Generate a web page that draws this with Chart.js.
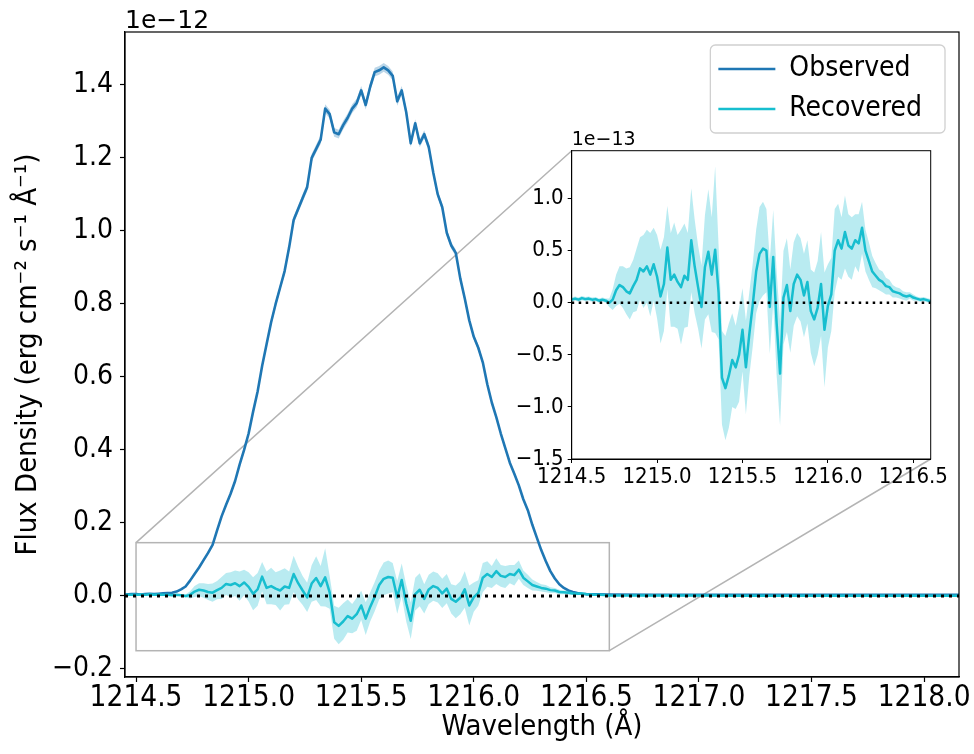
<!DOCTYPE html>
<html><head><meta charset="utf-8">
<script src="https://cdn.jsdelivr.net/npm/chart.js@4.4.1/dist/chart.umd.min.js"></script>
<style>
html,body{margin:0;padding:0;background:#fff;}
#wrap{position:relative;width:974px;height:754px;overflow:hidden;background:#fff;}
#main{position:absolute;left:0;top:0;}
#inset{position:absolute;left:500px;top:110px;}
</style></head><body>
<div id="wrap"><canvas id="main" width="974" height="754"></canvas><canvas id="inset" width="474" height="400"></canvas></div>
<script>
// ---------------- DATA ----------------
// Observed flux, units of 1e-12 erg cm^-2 s^-1 A^-1
const obsWave = [
  1214.45,1214.48,1214.50,1214.52,1214.54,1214.56,1214.58,1214.60,1214.62,1214.64,1214.66,
  1214.68,1214.70,1214.72,1214.74,1214.76,1214.78,1214.80,1214.82,1214.84,1214.86,1214.88,1214.90,1214.92,1214.94,1214.96,1214.98,
  1215.00,1215.02,1215.04,1215.06,1215.08,1215.10,1215.12,1215.14,1215.16,1215.18,1215.20,1215.22,1215.24,1215.26,1215.28,1215.30,
  1215.32,1215.34,1215.36,1215.38,1215.40,1215.42,1215.44,1215.46,1215.48,1215.50,1215.52,1215.54,1215.56,1215.58,1215.60,1215.62,
  1215.64,1215.66,1215.68,1215.70,1215.72,1215.74,1215.76,1215.78,1215.80,1215.82,1215.84,1215.86,1215.88,1215.90,1215.92,1215.94,
  1215.96,1215.98,1216.00,1216.02,1216.04,1216.06,1216.08,1216.10,1216.12,1216.14,1216.16,1216.18,1216.20,1216.22,1216.24,1216.26,
  1216.28,1216.30,1216.32,1216.34,1216.36,1216.38,1216.40,1216.42,1216.44,1216.46,1216.48,1216.50,
  1216.60,1216.80,1217.00,1217.20,1217.40,1217.60,1217.80,1218.00,1218.16
];
const obsFlux = [
  0.004,0.005,0.005,0.004,0.005,0.006,0.005,0.006,0.007,0.008,0.009,
  0.012,0.018,0.026,0.042,0.060,0.078,0.098,0.118,0.140,0.180,0.218,0.250,0.280,0.315,0.360,0.400,
  0.445,0.505,0.560,0.630,0.690,0.750,0.800,0.845,0.890,0.955,1.030,1.060,1.090,1.120,1.200,1.225,
  1.250,1.335,1.320,1.270,1.265,1.290,1.310,1.335,1.350,1.385,1.345,1.395,1.435,1.440,1.448,1.440,
  1.425,1.355,1.385,1.325,1.240,1.295,1.240,1.265,1.230,1.160,1.100,1.065,0.995,0.960,0.940,0.870,
  0.815,0.755,0.710,0.680,0.640,0.580,0.530,0.490,0.445,0.405,0.365,0.335,0.303,0.265,0.235,0.195,
  0.160,0.125,0.095,0.068,0.048,0.032,0.022,0.015,0.011,0.008,0.006,0.005,
  0.004,0.003,0.003,0.003,0.003,0.003,0.003,0.003,0.003
];
const obsErr = [
  0.001,0.001,0.001,0.001,0.001,0.001,0.001,0.001,0.001,0.001,0.001,
  0.002,0.002,0.002,0.003,0.003,0.003,0.004,0.004,0.004,0.005,0.005,0.005,0.006,0.006,0.006,0.007,
  0.007,0.007,0.008,0.008,0.008,0.009,0.009,0.009,0.010,0.010,0.010,0.010,0.011,0.011,0.011,0.011,
  0.012,0.012,0.012,0.012,0.012,0.012,0.012,0.012,0.012,0.012,0.012,0.012,0.012,0.012,0.012,0.012,
  0.012,0.012,0.012,0.012,0.011,0.011,0.011,0.011,0.011,0.010,0.010,0.010,0.010,0.009,0.009,0.009,
  0.009,0.008,0.008,0.008,0.007,0.007,0.007,0.006,0.006,0.006,0.005,0.005,0.005,0.004,0.004,0.004,
  0.003,0.003,0.003,0.003,0.003,0.002,0.002,0.002,0.002,0.002,0.002,0.002,
  0.001,0.001,0.001,0.001,0.001,0.001,0.001,0.001,0.001
];
// Recovered flux, units of 1e-13 erg cm^-2 s^-1 A^-1
const recWave = [
  1214.45,
  1214.50,1214.52,1214.54,1214.56,1214.58,1214.60,1214.62,1214.64,1214.66,1214.68,
  1214.70,1214.72,1214.74,1214.76,1214.78,1214.80,1214.82,1214.84,1214.86,1214.88,
  1214.90,1214.92,1214.94,1214.96,1214.98,1215.00,1215.02,1215.04,1215.06,1215.08,
  1215.10,1215.12,1215.14,1215.16,1215.18,1215.20,1215.22,1215.24,1215.26,1215.28,
  1215.30,1215.32,1215.34,1215.36,1215.38,1215.40,1215.42,1215.44,1215.46,1215.48,
  1215.50,1215.52,1215.54,1215.56,1215.58,1215.60,1215.62,1215.64,1215.66,1215.68,
  1215.70,1215.72,1215.74,1215.76,1215.78,1215.80,1215.82,1215.84,1215.86,1215.88,
  1215.90,1215.92,1215.94,1215.96,1215.98,1216.00,1216.02,1216.04,1216.06,1216.08,
  1216.10,1216.12,1216.14,1216.16,1216.18,1216.20,1216.22,1216.24,1216.26,1216.28,
  1216.30,1216.32,1216.34,1216.36,1216.38,1216.40,1216.42,1216.44,1216.46,1216.48,
  1216.50,1216.52,1216.54,1216.56,1216.58,1216.60,
  1216.80,1217.00,1217.20,1217.40,1217.60,1217.80,1218.00,1218.16
];
const recFlux = [
  0.03,
  0.03,0.04,0.03,0.045,0.035,0.04,0.03,0.035,0.02,0.03,
  0.02,0.00,0.03,0.12,0.17,0.15,0.11,0.09,0.16,0.22,
  0.33,0.30,0.35,0.27,0.37,0.25,0.06,0.18,0.53,0.22,
  0.27,0.20,0.15,0.26,0.22,0.60,0.35,0.15,-0.04,0.34,
  0.49,0.27,0.51,0.10,-0.72,-0.82,-0.70,-0.55,-0.62,-0.50,
  -0.26,-0.62,-0.30,-0.02,0.30,0.47,0.52,0.50,-0.04,0.44,
  -0.20,-0.68,0.05,0.17,-0.08,0.18,0.27,0.22,0.07,0.20,
  -0.08,-0.16,-0.05,0.18,-0.26,-0.03,0.08,0.50,0.60,0.52,
  0.68,0.55,0.52,0.60,0.57,0.72,0.50,0.40,0.30,0.26,
  0.22,0.20,0.16,0.15,0.11,0.10,0.09,0.07,0.06,0.07,
  0.05,0.04,0.03,0.035,0.025,0.015,
  0.01,0.01,0.008,0.008,0.006,0.006,0.005,0.005
];
const recErr = [
  0.02,
  0.02,0.02,0.02,0.02,0.02,0.02,0.02,0.02,0.02,0.02,
  0.02,0.04,0.10,0.15,0.18,0.20,0.22,0.25,0.25,0.30,
  0.30,0.35,0.35,0.40,0.35,0.40,0.45,0.45,0.40,0.45,
  0.50,0.45,0.55,0.50,0.45,0.50,0.45,0.40,0.40,0.50,
  0.60,0.55,0.80,0.45,0.45,0.50,0.50,0.45,0.40,0.45,
  0.40,0.45,0.40,0.40,0.40,0.45,0.45,0.40,0.45,0.45,
  0.50,0.50,0.45,0.45,0.40,0.40,0.40,0.40,0.40,0.40,
  0.40,0.45,0.45,0.50,0.55,0.40,0.35,0.40,0.35,0.30,
  0.35,0.30,0.30,0.25,0.28,0.25,0.20,0.18,0.15,0.12,
  0.10,0.10,0.08,0.07,0.06,0.05,0.05,0.04,0.04,0.03,
  0.03,0.02,0.02,0.02,0.02,0.02,
  0.01,0.01,0.01,0.01,0.01,0.01,0.01,0.01
];
const legendNames = ['Observed', 'Recovered'];
const mainXTicks = [1214.5, 1215.0, 1215.5, 1216.0, 1216.5, 1217.0, 1217.5, 1218.0];
const mainYTicks = [-0.2, 0.0, 0.2, 0.4, 0.6, 0.8, 1.0, 1.2, 1.4];
const insetXTicks = [1214.5, 1215.0, 1215.5, 1216.0, 1216.5];
const insetYTicks = [-1.5, -1.0, -0.5, 0.0, 0.5, 1.0];
const mainXRange = [1214.451, 1218.155];
const mainYRange = [-0.222, 1.545];
const insetXRange = [1214.5, 1216.602];
const insetYRange = [-1.5, 1.46];
const mainOffsetText = '1e\u221212';
const insetOffsetText = '1e\u221213';
const xTitle = 'Wavelength (\u00C5)';
const yTitle = 'Flux Density (erg cm\u207B\u00B2 s\u207B\u00B9 \u00C5\u207B\u00B9)';

// ---------------- STYLE ----------------
const OBS = '#1f77b4', OBS_FILL = 'rgba(31,119,180,0.3)';
const REC = '#17becf', REC_FILL = 'rgba(23,190,207,0.3)';
function pickFont(){
  const c = document.createElement('canvas').getContext('2d');
  const s = 'Wavelength 1214.5';
  c.font = '40px monospace'; const m = c.measureText(s).width;
  for (const f of ['DejaVu Sans Condensed', 'Liberation Sans Narrow']) {
    c.font = '40px "' + f + '", monospace';
    if (Math.abs(c.measureText(s).width - m) > 0.5) return f;
  }
  return null;
}
const NARROW = pickFont();
const FONT = NARROW || 'DejaVu Sans';
const K = NARROW ? 1 : 0.9;
const BASE = 'DejaVu Sans';
Chart.defaults.color = '#000';
Chart.defaults.font.family = FONT;
const fmt = v => (v < 0 ? '\u2212' : '') + Math.abs(v).toFixed(1);

const pts = (w, f, s) => w.map((x, i) => ({x, y: f[i] * s}));
const band = (w, f, e, sgn, s) => w.map((x, i) => ({x, y: (f[i] + sgn * e[i]) * s}));

function lineDs(label, data, color, width, order, extra) {
  return Object.assign({label, data, borderColor: color, borderWidth: width, pointRadius: 0,
    tension: 0, borderJoinStyle: 'round', fill: false, order}, extra || {});
}

// ---------------- INSET ----------------
const insetFramePlugin = {
  id: 'insetFrame',
  beforeDraw(chart) {
    const {ctx, chartArea: a} = chart;
    ctx.save(); ctx.fillStyle = '#fff'; ctx.fillRect(a.left, a.top, a.right - a.left, a.bottom - a.top); ctx.restore();
  },
  afterDraw(chart) {
    const {ctx, chartArea: a} = chart;
    ctx.save();
    ctx.strokeStyle = '#000'; ctx.lineWidth = 1;
    ctx.strokeRect(a.left, a.top, a.right - a.left, a.bottom - a.top);
    ctx.fillStyle = '#000'; ctx.font = '19px "' + BASE + '"'; ctx.textBaseline = 'alphabetic';
    ctx.fillText(insetOffsetText, a.left, a.top - 6);
    ctx.restore();
  }
};
const insetChart = new Chart(document.getElementById('inset'), {
  type: 'line',
  data: { datasets: [
    lineDs('zero', [{x: insetXRange[0], y: 0}, {x: insetXRange[1], y: 0}], '#000', 2.5, 0, {borderDash: [2.5, 4.5]}),
    lineDs('Recovered', pts(recWave, recFlux, 1), REC, 2.5, 1),
    lineDs('rec hi', band(recWave, recFlux, recErr, 1, 1), 'rgba(0,0,0,0)', 0, 2, {fill: '+1', backgroundColor: REC_FILL}),
    lineDs('rec lo', band(recWave, recFlux, recErr, -1, 1), 'rgba(0,0,0,0)', 0, 3)
  ]},
  options: {
    responsive: false, animation: false, devicePixelRatio: 1, events: [],
    layout: {padding: {left: 0, top: 40.7, right: 43.3, bottom: 0}},
    plugins: {legend: {display: false}, tooltip: {enabled: false}},
    scales: {
      x: {type: 'linear', min: insetXRange[0], max: insetXRange[1],
        afterBuildTicks: s => { s.ticks = insetXTicks.map(v => ({value: v})); },
        afterFit: s => { s.height = 51; },
        ticks: {callback: v => fmt(v), autoSkip: false, maxRotation: 0, padding: 3, font: {size: 22 * K, lineHeight: 1}},
        grid: {drawOnChartArea: false, drawTicks: true, tickLength: 4, color: '#000', tickWidth: 1},
        border: {display: true, color: '#000', width: 1}},
      y: {type: 'linear', min: insetYRange[0], max: insetYRange[1],
        afterBuildTicks: s => { s.ticks = insetYTicks.map(v => ({value: v})); },
        afterFit: s => { s.width = 71.7; },
        ticks: {callback: v => fmt(v), autoSkip: false, padding: 4, font: {size: 22 * K, lineHeight: 1}},
        grid: {drawOnChartArea: false, drawTicks: true, tickLength: 4, color: '#000', tickWidth: 1},
        border: {display: true, color: '#000', width: 1}}
    }
  },
  plugins: [insetFramePlugin]
});

// ---------------- MAIN ----------------
const LEG_SIZE = 28 * K;
const mainPlugin = {
  id: 'mainDecor',
  afterLayout(chart) {
    const lg = chart.legend; if (!lg) return;
    const a = chart.chartArea, ctx = chart.ctx;
    ctx.save(); ctx.font = LEG_SIZE + 'px "' + FONT + '"';
    const tw = Math.max(...legendNames.map(n => ctx.measureText(n).width));
    ctx.restore();
    const pad = 12, boxW = 57;
    const bRight = a.right - 14, bTop = a.top + 13;
    const bW = 8 + boxW + LEG_SIZE / 2 + tw + 23, bH = 88;
    const bLeft = bRight - bW;
    lg.left = bLeft + 8 - pad;
    lg.top = bTop + 24 - pad - LEG_SIZE / 2;
    lg.right = bRight + 10;
    lg.bottom = a.bottom;
    chart.$legBox = {x: bLeft, y: bTop, w: bW, h: bH};
  },
  beforeDraw(chart) {
    const b = chart.$legBox; if (!b) return;
    const ctx = chart.ctx;
    ctx.save();
    ctx.beginPath();
    ctx.roundRect(b.x, b.y, b.w, b.h, 5);
    ctx.fillStyle = 'rgba(255,255,255,0.8)'; ctx.fill();
    ctx.strokeStyle = '#d0d0d0'; ctx.lineWidth = 1.3; ctx.stroke();
    ctx.restore();
  },
  beforeDatasetsDraw(chart) {
    const {ctx, scales: {x, y}} = chart;
    const x1 = x.getPixelForValue(insetXRange[0]), x2 = x.getPixelForValue(insetXRange[1]);
    const y1 = y.getPixelForValue(insetYRange[1] / 10), y2 = y.getPixelForValue(insetYRange[0] / 10);
    const el = document.getElementById('inset');
    const ox = el.offsetLeft, oy = el.offsetTop, ia = insetChart.chartArea;
    ctx.save();
    ctx.strokeStyle = '#b4b4b4'; ctx.lineWidth = 1.5;
    ctx.strokeRect(x1, y1, x2 - x1, y2 - y1);
    ctx.beginPath();
    ctx.moveTo(x1, y1); ctx.lineTo(ox + ia.left, oy + ia.top);
    ctx.moveTo(x2, y2); ctx.lineTo(ox + ia.right, oy + ia.bottom);
    ctx.stroke();
    ctx.restore();
  },
  afterDraw(chart) {
    const {ctx, chartArea: a} = chart;
    ctx.save();
    ctx.strokeStyle = '#000'; ctx.lineWidth = 1.2;
    ctx.strokeRect(a.left, a.top, a.right - a.left, a.bottom - a.top);
    ctx.fillStyle = '#000'; ctx.font = '25px "' + BASE + '"'; ctx.textBaseline = 'alphabetic';
    ctx.fillText(mainOffsetText, a.left, a.top - 4);
    ctx.restore();
  }
};

new Chart(document.getElementById('main'), {
  type: 'line',
  data: { datasets: [
    lineDs('zero', [{x: mainXRange[0], y: 0}, {x: mainXRange[1], y: 0}], '#000', 3, 0, {borderDash: [3, 5]}),
    lineDs('Recovered', pts(recWave, recFlux, 0.1), REC, 2.5, 1),
    lineDs('rec hi', band(recWave, recFlux, recErr, 1, 0.1), 'rgba(0,0,0,0)', 0, 2, {fill: '+1', backgroundColor: REC_FILL}),
    lineDs('rec lo', band(recWave, recFlux, recErr, -1, 0.1), 'rgba(0,0,0,0)', 0, 3),
    lineDs('Observed', pts(obsWave, obsFlux, 1), OBS, 2.6, 4),
    lineDs('obs hi', band(obsWave, obsFlux, obsErr, 1, 1), 'rgba(0,0,0,0)', 0, 5, {fill: '+1', backgroundColor: OBS_FILL}),
    lineDs('obs lo', band(obsWave, obsFlux, obsErr, -1, 1), 'rgba(0,0,0,0)', 0, 6)
  ]},
  options: {
    responsive: false, animation: false, devicePixelRatio: 1, events: [],
    layout: {padding: {left: 0, top: 32, right: 15, bottom: 0}},
    plugins: {
      tooltip: {enabled: false},
      legend: {
        display: true, position: 'chartArea', align: 'start',
        labels: {
          usePointStyle: true, pointStyle: 'line', pointStyleWidth: 57, padding: 12,
          font: {size: LEG_SIZE, family: FONT}, color: '#000',
          filter: it => legendNames.includes(it.text),
          sort: (p, q) => legendNames.indexOf(p.text) - legendNames.indexOf(q.text)
        }
      }
    },
    scales: {
      x: {type: 'linear', min: mainXRange[0], max: mainXRange[1],
        afterBuildTicks: s => { s.ticks = mainXTicks.map(v => ({value: v})); },
        afterFit: s => { s.height = 77; },
        title: {display: true, text: xTitle, font: {size: 29 * K}, padding: {top: 4, bottom: 9.6}},
        ticks: {callback: v => fmt(v), autoSkip: false, maxRotation: 0, padding: 2, font: {size: 29.5 * K, lineHeight: 1}},
        grid: {drawOnChartArea: false, drawTicks: true, tickLength: 5, color: '#000', tickWidth: 1.2},
        border: {display: true, color: '#000', width: 1.2}},
      y: {type: 'linear', min: mainYRange[0], max: mainYRange[1],
        afterBuildTicks: s => { s.ticks = mainYTicks.map(v => ({value: v})); },
        afterFit: s => { s.width = 125; },
        title: {display: true, text: yTitle, font: {size: 29 * K}, padding: {top: 10.6, bottom: 4}},
        ticks: {callback: v => fmt(v), autoSkip: false, padding: 7, font: {size: 28 * K, lineHeight: 1}},
        grid: {drawOnChartArea: false, drawTicks: true, tickLength: 5, color: '#000', tickWidth: 1.2},
        border: {display: true, color: '#000', width: 1.2}}
    }
  },
  plugins: [mainPlugin]
});
</script>
</body></html>
